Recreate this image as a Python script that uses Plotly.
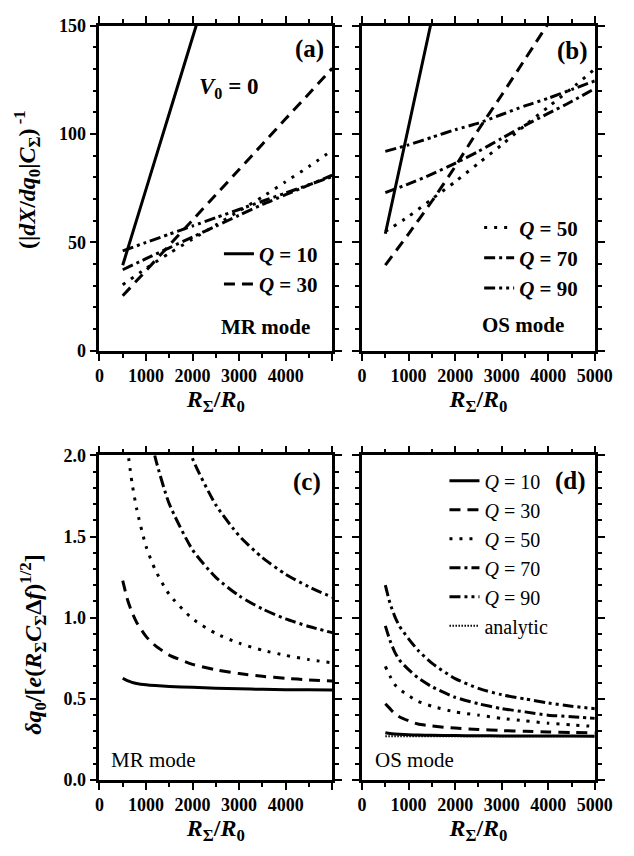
import plotly.graph_objects as go

# ---------------- data ----------------
# Panel (a): MR mode, (|dX/dq0|C_Sigma)^-1 vs R_Sigma/R0
xa = [500, 1000, 1500, 2000, 2500, 3000, 3500, 4000, 4500, 5000]
xa_q10 = [500, 1000, 1500, 2000, 2500]
a_q10 = [39.5, 74.5, 109.5, 144.5, 179.5]
a_q30 = [25.4, 37.0, 48.7, 60.3, 72.0, 83.6, 95.3, 107.0, 118.6, 130.3]
a_q50 = [30.5, 38.0, 45.0, 51.5, 58.0, 64.5, 71.0, 78.0, 85.0, 92.5]
a_q70 = [37.4, 42.5, 47.5, 52.5, 57.5, 62.5, 67.5, 72.0, 76.5, 81.0]
a_q90 = [46.1, 50.0, 53.8, 57.6, 61.4, 65.2, 69.0, 72.8, 76.6, 80.4]

# Panel (b): OS mode
xb = [500, 1000, 1500, 2000, 2500, 3000, 3500, 4000, 4500, 5000]
xb_q10 = [500, 1000, 1500]
b_q10 = [54.0, 103.5, 153.0]
xb_q30 = [500, 1000, 1500, 2000, 2500, 3000, 3500, 4000]
b_q30 = [39.5, 54.0, 69.0, 85.0, 102.0, 118.0, 134.5, 151.0]
b_q50 = [55.0, 62.0, 70.0, 78.0, 86.5, 95.0, 104.0, 112.5, 121.0, 130.0]
b_q70 = [73.0, 77.0, 81.5, 86.5, 92.0, 98.0, 104.0, 109.5, 115.0, 121.0]
b_q90 = [92.0, 95.0, 98.5, 102.0, 105.0, 109.0, 113.0, 116.5, 120.5, 124.5]

# Panel (c): MR mode, dq0/[e(R C df)^1/2]
xc = [500, 600, 700, 800, 1000, 1200, 1500, 2000, 2500, 3000, 3500, 4000, 4500, 5000]
c_q10 = [0.627, 0.612, 0.602, 0.595, 0.587, 0.582, 0.577, 0.571, 0.566, 0.562, 0.559, 0.557, 0.556, 0.555]
c_q30 = [1.229, 1.114, 1.032, 0.971, 0.885, 0.828, 0.770, 0.713, 0.679, 0.656, 0.639, 0.627, 0.617, 0.610]
xc_q50 = [600, 700, 800, 1000, 1200, 1500, 2000, 2500, 3000, 3500, 4000, 4500, 5000]
c_q50 = [2.045, 1.83, 1.67, 1.44, 1.294, 1.143, 0.993, 0.903, 0.843, 0.80, 0.768, 0.742, 0.722]
xc_q70 = [1000, 1200, 1500, 2000, 2500, 3000, 3500, 4000, 4500, 5000]
c_q70 = [2.268, 1.985, 1.701, 1.418, 1.248, 1.135, 1.054, 0.993, 0.946, 0.908]
xc_q90 = [1500, 2000, 2500, 3000, 3500, 4000, 4500, 5000]
c_q90 = [2.454, 1.98, 1.695, 1.505, 1.37, 1.268, 1.19, 1.126]

# Panel (d): OS mode
xd = [500, 600, 700, 800, 1000, 1200, 1500, 2000, 2500, 3000, 3500, 4000, 4500, 5000]
d_q10 = [0.292, 0.287, 0.284, 0.282, 0.279, 0.277, 0.276, 0.274, 0.273, 0.272, 0.272, 0.271, 0.271, 0.270]
d_q30 = [0.47, 0.44, 0.41, 0.39, 0.365, 0.345, 0.333, 0.32, 0.312, 0.305, 0.30, 0.296, 0.293, 0.29]
d_q50 = [0.70, 0.64, 0.59, 0.56, 0.52, 0.485, 0.455, 0.42, 0.40, 0.38, 0.365, 0.35, 0.34, 0.33]
d_q70 = [0.95, 0.86, 0.79, 0.74, 0.68, 0.63, 0.575, 0.51, 0.47, 0.44, 0.42, 0.40, 0.39, 0.38]
d_q90 = [1.20, 1.09, 1.01, 0.95, 0.87, 0.80, 0.72, 0.625, 0.565, 0.525, 0.50, 0.475, 0.455, 0.44]
xd_an = [500, 1000, 2000, 3000, 4000, 5000]
d_an = [0.27, 0.27, 0.27, 0.27, 0.27, 0.27]

q_labels = ["<i>Q</i> = 10", "<i>Q</i> = 30", "<i>Q</i> = 50", "<i>Q</i> = 70", "<i>Q</i> = 90"]
x_ticks = [0, 1000, 2000, 3000, 4000, 5000]

# ---------------- styles ----------------
SERIF = "Liberation Serif"
DASH = {
    10: "solid",
    30: "11px,7px",
    50: "3px,7px",
    70: "11px,4px,3px,4px",
    90: "11px,4px,3px,4px,3px,4px",
}
W = 3

fig = go.Figure()


def add(x, y, q, xa_, ya_, name, legend=None):
    fig.add_trace(go.Scatter(
        x=x, y=y, mode="lines", name=name,
        line=dict(color="black", width=W, dash=DASH[q], shape="spline", smoothing=0.6),
        xaxis=xa_, yaxis=ya_,
        showlegend=legend is not None,
        legend=legend if legend else "legend",
    ))


# (a)
add(xa_q10, a_q10, 10, "x", "y", q_labels[0], "legend")
add(xa, a_q30, 30, "x", "y", q_labels[1], "legend")
add(xa, a_q50, 50, "x", "y", q_labels[2])
add(xa, a_q70, 70, "x", "y", q_labels[3])
add(xa, a_q90, 90, "x", "y", q_labels[4])
# (b)
add(xb_q10, b_q10, 10, "x2", "y2", q_labels[0])
add(xb_q30, b_q30, 30, "x2", "y2", q_labels[1])
add(xb, b_q50, 50, "x2", "y2", q_labels[2], "legend2")
add(xb, b_q70, 70, "x2", "y2", q_labels[3], "legend2")
add(xb, b_q90, 90, "x2", "y2", q_labels[4], "legend2")
# (c)
add(xc, c_q10, 10, "x3", "y3", q_labels[0])
add(xc, c_q30, 30, "x3", "y3", q_labels[1])
add(xc_q50, c_q50, 50, "x3", "y3", q_labels[2])
add(xc_q70, c_q70, 70, "x3", "y3", q_labels[3])
add(xc_q90, c_q90, 90, "x3", "y3", q_labels[4])
# (d)
add(xd, d_q10, 10, "x4", "y4", q_labels[0], "legend3")
add(xd, d_q30, 30, "x4", "y4", q_labels[1], "legend3")
add(xd, d_q50, 50, "x4", "y4", q_labels[2], "legend3")
add(xd, d_q70, 70, "x4", "y4", q_labels[3], "legend3")
add(xd, d_q90, 90, "x4", "y4", q_labels[4], "legend3")
fig.add_trace(go.Scatter(
    x=xd_an, y=d_an, mode="lines", name="analytic",
    line=dict(color="black", width=2, dash="1.5px,1.5px"),
    xaxis="x4", yaxis="y4", showlegend=True, legend="legend3",
))

# ---------------- layout ----------------
WID, HEI = 634, 856


def px_x(p):
    return p / WID


def px_y(p):
    return 1 - p / HEI


tickfont = dict(family=SERIF, size=18, color="black", weight="bold")
common = dict(
    showline=True, linewidth=2.5, linecolor="black", mirror="allticks",
    ticks="outside", ticklen=7, tickwidth=2, tickcolor="black",
    showgrid=False, zeroline=False, tickfont=tickfont,
)
xtitle = dict(text="<i>R</i><sub>Σ</sub>/<i>R</i><sub>0</sub>",
              font=dict(family=SERIF, size=24, color="black", weight="bold"), standoff=2)


def xaxis(dom, labels_full, anchor):
    d = dict(common)
    d.update(domain=dom, range=[0, 5000], anchor=anchor,
             tickmode="array", tickvals=x_ticks,
             ticktext=[str(v) for v in x_ticks] if labels_full else [str(v) for v in x_ticks[:-1]] + [""],
             minor=dict(ticks="outside", ticklen=4, tickwidth=1.5, tickcolor="black", dtick=500, tick0=0),
             title=xtitle)
    return d


def yaxis(dom, rng, dtick, mdtick, labels, anchor, fmt=None):
    d = dict(common)
    d.update(domain=dom, range=rng, dtick=dtick, tick0=0, anchor=anchor,
             showticklabels=labels,
             minor=dict(ticks="outside", ticklen=4, tickwidth=1.5, tickcolor="black", dtick=mdtick, tick0=0))
    if fmt:
        d["tickformat"] = fmt
    return d


dom_xl = [px_x(98), px_x(339.5)]
dom_xr = [px_x(370.5), px_x(612)]
dom_yt = [px_y(349), px_y(16)]
dom_yb = [px_y(788.5), px_y(456)]

legfont = dict(family=SERIF, size=21, color="black", weight="bold")
legfont_r = dict(family=SERIF, size=20, color="black")

fig.update_layout(
    width=WID, height=HEI,
    margin=dict(l=0, r=0, t=0, b=0),
    paper_bgcolor="white", plot_bgcolor="white",
    font=dict(family=SERIF, color="black"),
    xaxis=xaxis(dom_xl, False, "y"),
    xaxis2=xaxis(dom_xr, True, "y2"),
    xaxis3=xaxis(dom_xl, False, "y3"),
    xaxis4=xaxis(dom_xr, True, "y4"),
    yaxis=yaxis(dom_yt, [0, 150], 50, 10, True, "x"),
    yaxis2=yaxis(dom_yt, [0, 150], 50, 10, False, "x2"),
    yaxis3=yaxis(dom_yb, [0, 2], 0.5, 0.1, True, "x3", ".1f"),
    yaxis4=yaxis(dom_yb, [0, 2], 0.5, 0.1, False, "x4", ".1f"),
    legend=dict(x=px_x(222), y=px_y(229), xanchor="left", yanchor="top",
                font=legfont, bgcolor="rgba(0,0,0,0)", tracegroupgap=0),
    legend2=dict(x=px_x(492), y=px_y(202), xanchor="left", yanchor="top",
                 font=legfont, bgcolor="rgba(0,0,0,0)", tracegroupgap=0),
    legend3=dict(x=px_x(456), y=px_y(462), xanchor="left", yanchor="top",
                 font=legfont_r, bgcolor="rgba(0,0,0,0)", tracegroupgap=0),
)

ann_b = dict(family=SERIF, size=25, color="black", weight="bold")
ann_m = dict(family=SERIF, size=21, color="black", weight="bold")
ann_r = dict(family=SERIF, size=21, color="black")
annotations = [
    dict(text="(a)", x=px_x(316), y=px_y(40), font=ann_b),
    dict(text="(b)", x=px_x(589), y=px_y(42), font=ann_b),
    dict(text="(c)", x=px_x(313), y=px_y(483), font=ann_b),
    dict(text="(d)", x=px_x(587), y=px_y(482), font=ann_b),
    dict(text="<i>V</i><sub>0</sub> = 0", x=px_x(232), y=px_y(80), font=dict(family=SERIF, size=23, color="black", weight="bold")),
    dict(text="MR mode", x=px_x(270), y=px_y(325), font=ann_m),
    dict(text="OS mode", x=px_x(537), y=px_y(323), font=ann_m),
    dict(text="MR mode", x=px_x(154), y=px_y(768), font=ann_r),
    dict(text="OS mode", x=px_x(425), y=px_y(768), font=ann_r),
    dict(text="(|<i>dX</i>/<i>dq</i><sub>0</sub>|<i>C</i><sub>Σ</sub>)<sup> -1</sup>",
         x=px_x(23), y=px_y(174), textangle=-90,
         font=dict(family=SERIF, size=24, color="black", weight="bold")),
    dict(text="<i>δq</i><sub>0</sub>/[<i>e</i>(<i>R</i><sub>Σ</sub><i>C</i><sub>Σ</sub>Δ<i>f</i>)<sup>1/2</sup>]",
         x=px_x(29), y=px_y(649), textangle=-90,
         font=dict(family=SERIF, size=24, color="black", weight="bold")),
]
for a in annotations:
    a.update(xref="paper", yref="paper", showarrow=False, xanchor="center", yanchor="middle")
fig.update_layout(annotations=annotations)

fig.write_html("out.html")
